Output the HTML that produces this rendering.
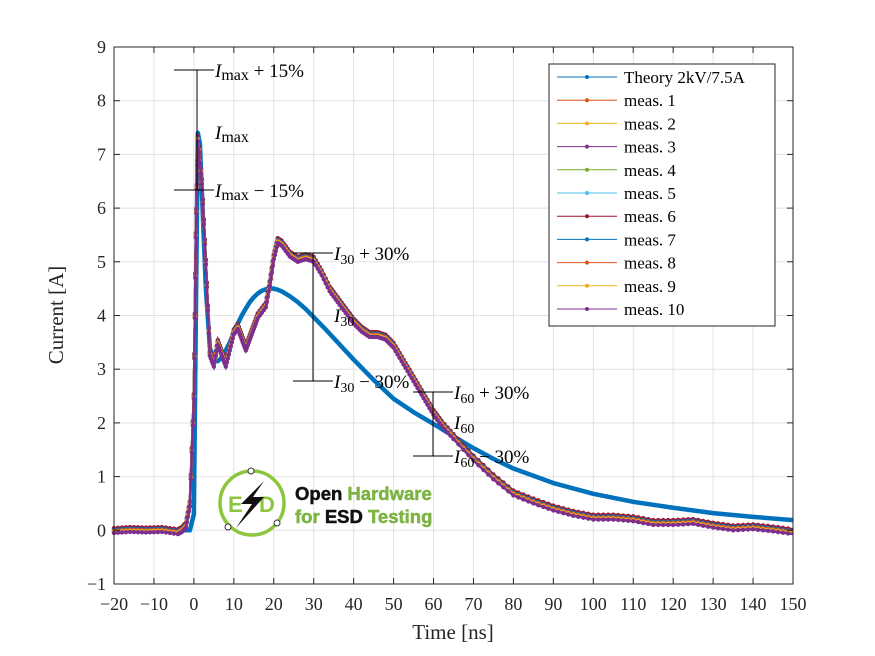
<!DOCTYPE html>
<html><head><meta charset="utf-8"><style>
body{margin:0;background:#fff;}
svg{display:block;font-family:"Liberation Serif",serif;}
</style></head><body>
<svg id="chart" width="875" height="656" viewBox="0 0 875 656" xmlns="http://www.w3.org/2000/svg">
<rect width="875" height="656" fill="#fff"/>
<g id="grid"></g>
<g id="series"></g>
<g id="annot"></g>
<g id="axes"></g>
<g id="legend"></g>
<g id="logo">
  <circle cx="252" cy="503" r="32" fill="#fff" stroke="#8cc63f" stroke-width="3.5"/>
  <circle cx="251" cy="471" r="3" fill="#fff" stroke="#333"/>
  <circle cx="228" cy="527" r="3" fill="#fff" stroke="#333"/>
  <circle cx="277" cy="523" r="3" fill="#fff" stroke="#333"/>
  <text x="228" y="512" font-family="Liberation Sans,sans-serif" font-weight="bold" font-size="22" fill="#8cc63f">E</text>
  <text x="259" y="512" font-family="Liberation Sans,sans-serif" font-weight="bold" font-size="22" fill="#8cc63f">D</text>
  <polygon points="264,481 241,504 252,504 236,528 264,497 253,497" fill="#111"/>
  <text x="295" y="500" font-family="Liberation Sans,sans-serif" font-weight="bold" font-size="18.5" fill="#111" stroke="#111" stroke-width="0.5">Open <tspan fill="#7cb342" stroke="#7cb342">Hardware</tspan></text>
  <text x="295" y="523" font-family="Liberation Sans,sans-serif" font-weight="bold" font-size="18.5" fill="#7cb342" stroke="#7cb342" stroke-width="0.5">for <tspan fill="#111" stroke="#111">ESD</tspan> Testing</text>
</g>
</svg>
<script>
const xTicks=[-20,-10,0,10,20,30,40,50,60,70,80,90,100,110,120,130,140,150];
const yTicks=[-1,0,1,2,3,4,5,6,7,8,9];
const theoryT=[-20,-1,0,0.5,1,1.5,2,3,4,5,6,7,8,9,10,11,12,13,14,15,16,17,18,19,20,21,22,24,26,28,30,33,36,40,45,50,55,60,65,70,75,80,90,100,110,120,130,140,150];
const theoryV=[0,0,0.3,4,7.4,7.2,6.3,4.5,3.4,3.15,3.15,3.22,3.35,3.5,3.68,3.85,4.0,4.13,4.25,4.34,4.41,4.46,4.49,4.5,4.5,4.48,4.45,4.36,4.25,4.12,3.97,3.74,3.5,3.18,2.8,2.45,2.2,1.98,1.75,1.53,1.33,1.15,0.88,0.68,0.53,0.42,0.32,0.25,0.19];
const measT=[-20,-16,-12,-8,-4,-3,-2,-1,0,0.5,1,2,3,4,5,6,7,8,9,10,11,12,13,14,15,16,18,19,20,21,22,24,26,28,30,32,34,36,38,40,42,44,46,48,50,52,54,56,58,60,62,65,70,75,80,85,90,95,100,105,110,115,120,125,130,135,140,145,150];
const measV=[0,0.02,0.01,0.02,-0.02,0.02,0.1,0.5,2.5,5.5,7.3,6.5,5,3.3,3.1,3.5,3.3,3.1,3.4,3.7,3.8,3.6,3.4,3.6,3.8,4.0,4.2,4.6,5.1,5.4,5.35,5.15,5.05,5.1,5.05,4.8,4.5,4.3,4.1,3.9,3.75,3.65,3.65,3.6,3.45,3.2,2.95,2.7,2.45,2.2,2.0,1.75,1.35,1.0,0.7,0.55,0.42,0.32,0.25,0.25,0.22,0.15,0.15,0.17,0.1,0.05,0.07,0.03,-0.02];
const measOffsets=[0.01,-0.02,-0.04,0,0.03,0.04,0.01,-0.01,-0.03,-0.05];
const legendLabels=["Theory 2kV/7.5A","meas. 1","meas. 2","meas. 3","meas. 4","meas. 5","meas. 6","meas. 7","meas. 8","meas. 9","meas. 10"];
const colors=["#0072BD","#D95319","#EDB120","#7E2F8E","#77AC30","#4DBEEE","#A2142F","#0072BD","#D95319","#EDB120","#7E2F8E"];
const NS="http://www.w3.org/2000/svg";
const X0=114,X1=793,Y0=584,Y1=47;
const xs=t=>X0+(t+20)*(X1-X0)/170;
const ys=v=>Y0-(v+1)*(Y0-Y1)/10;
function mk(tag,attrs,parent){const e=document.createElementNS(NS,tag);for(const k in attrs)e.setAttribute(k,attrs[k]);parent.appendChild(e);return e;}
const grid=document.getElementById('grid'),axes=document.getElementById('axes'),ser=document.getElementById('series'),ann=document.getElementById('annot'),leg=document.getElementById('legend');
xTicks.forEach(t=>{const g=mk('line',{x1:xs(t),x2:xs(t),y1:Y1,y2:Y0,stroke:'#e2e2e2','stroke-width':1},grid);

mk('line',{x1:xs(t),x2:xs(t),y1:Y0,y2:Y0-6,stroke:'#262626'},axes);mk('line',{x1:xs(t),x2:xs(t),y1:Y1,y2:Y1+6,stroke:'#262626'},axes);
const tx=mk('text',{x:xs(t),y:610,'text-anchor':'middle','font-size':18,fill:'#262626'},axes);tx.textContent=t<0?'\u2212'+(-t):t;
});
yTicks.forEach(v=>{const g=mk('line',{x1:X0,x2:X1,y1:ys(v),y2:ys(v),stroke:'#e2e2e2'},grid);

mk('line',{x1:X0,x2:X0+6,y1:ys(v),y2:ys(v),stroke:'#262626'},axes);mk('line',{x1:X1,x2:X1-6,y1:ys(v),y2:ys(v),stroke:'#262626'},axes);
const tx=mk('text',{x:X0-8,y:ys(v)+6,'text-anchor':'end','font-size':18,fill:'#262626'},axes);tx.textContent=v<0?'\u2212'+(-v):v;
});
const fr=mk('rect',{x:X0,y:Y1,width:X1-X0,height:Y0-Y1,fill:'none',stroke:'#262626'},axes);

const xl=mk('text',{x:453,y:639,'text-anchor':'middle','font-size':21,fill:'#262626'},axes);xl.textContent='Time [ns]';

const yl=mk('text',{x:63,y:315,'text-anchor':'middle','font-size':21,fill:'#262626',transform:'rotate(-90 63 315)'},axes);yl.textContent='Current [A]';

// theory (drawn first, measured on top)
const tg=mk('g',{},ser);
mk('polyline',{points:theoryT.map((t,i)=>xs(t)+','+ys(theoryV[i])).join(' '),fill:'none',stroke:'#0072BD','stroke-width':4.5,'stroke-linejoin':'round'},tg);
// measured series
for(let s=0;s<10;s++){const c=colors[s+1];const pts=measT.map((t,i)=>xs(t)+','+ys(measV[i]+measOffsets[s])).join(' ');
const g=mk('g',{},ser);
mk('polyline',{points:pts,fill:'none',stroke:c,'stroke-width':2.5},g);
for(let i=0;i<measT.length-1;i++){for(let k=0;k<4;k++){const t=measT[i]+(measT[i+1]-measT[i])*k/4;const v=measV[i]+(measV[i+1]-measV[i])*k/4+measOffsets[s];
mk('circle',{cx:xs(t),cy:ys(v),r:2.2,fill:c},g);}}}
// annotations
function ann3(x,yTop,yBot,x1,x2,labels){mk('line',{x1:x,x2:x,y1:yTop,y2:yBot,stroke:'#000'},ann);
mk('line',{x1:x1,x2:x2,y1:yTop,y2:yTop,stroke:'#000'},ann);mk('line',{x1:x1,x2:x2,y1:yBot,y2:yBot,stroke:'#000'},ann);
labels.forEach(l=>{const t=mk('text',{x:l[0],y:l[1],'font-size':19,fill:'#000'},ann);t.innerHTML=l[2];});}
ann3(197,70,190,174,214,[[215,77,'<tspan font-style="italic">I</tspan><tspan font-size="16" dy="3">max</tspan><tspan dy="-3"> + 15%</tspan>'],[215,139,'<tspan font-style="italic">I</tspan><tspan font-size="16" dy="3">max</tspan>'],[215,197,'<tspan font-style="italic">I</tspan><tspan font-size="16" dy="3">max</tspan><tspan dy="-3"> \u2212 15%</tspan>']]);
ann3(313,253,381,293,333,[[334,260,'<tspan font-style="italic">I</tspan><tspan font-size="14" dy="4">30</tspan><tspan dy="-4"> + 30%</tspan>'],[334,322,'<tspan font-style="italic">I</tspan><tspan font-size="14" dy="4">30</tspan>'],[334,388,'<tspan font-style="italic">I</tspan><tspan font-size="14" dy="4">30</tspan><tspan dy="-4"> \u2212 30%</tspan>']]);
ann3(433,392,456,413,453,[[454,399,'<tspan font-style="italic">I</tspan><tspan font-size="14" dy="4">60</tspan><tspan dy="-4"> + 30%</tspan>'],[454,429,'<tspan font-style="italic">I</tspan><tspan font-size="14" dy="4">60</tspan>'],[454,463,'<tspan font-style="italic">I</tspan><tspan font-size="14" dy="4">60</tspan><tspan dy="-4"> \u2212 30%</tspan>']]);
// legend
const lb=mk('rect',{x:549,y:64,width:226,height:262,fill:'#fff',stroke:'#262626'},leg);

legendLabels.forEach((l,i)=>{const y=77+i*23.2;const g=mk('g',{},leg);
mk('line',{x1:557,x2:617,y1:y,y2:y,stroke:colors[i],'stroke-width':1}, g);mk('circle',{cx:587,cy:y,r:2,fill:colors[i]},g);
const t=mk('text',{x:624,y:y+6,'font-size':17,fill:'#000'},g);t.textContent=l;});
</script>
</body></html>
